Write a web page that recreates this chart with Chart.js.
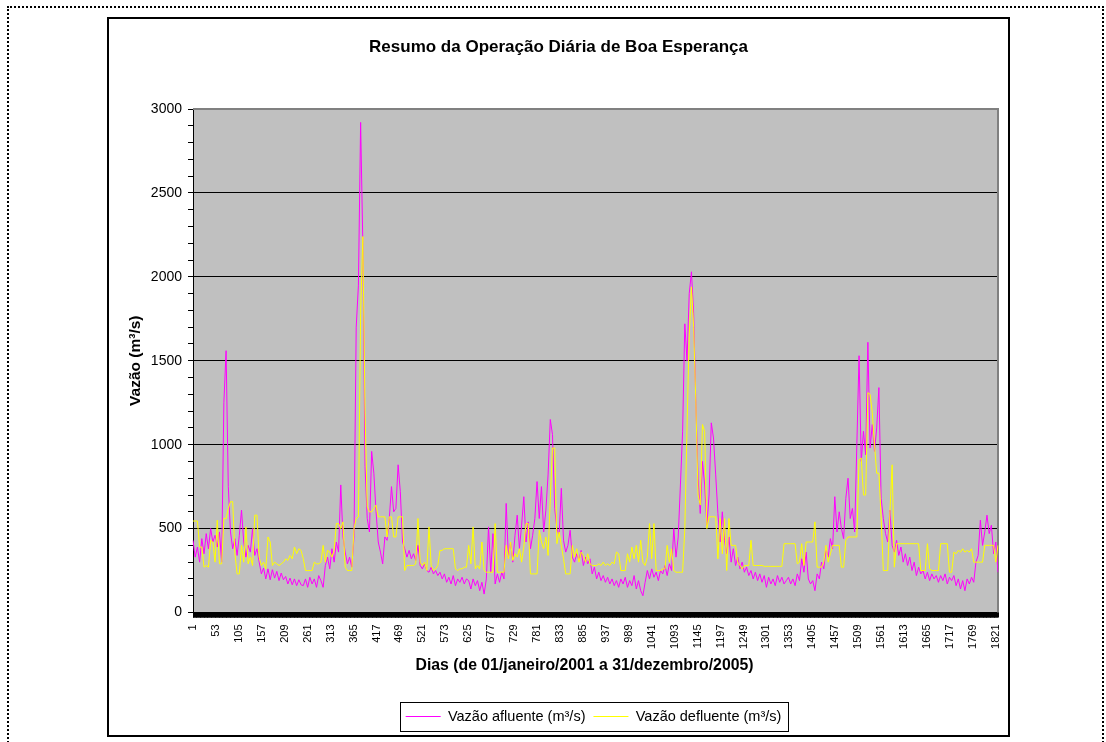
<!DOCTYPE html>
<html>
<head>
<meta charset="utf-8">
<title>Resumo da Operação Diária de Boa Esperança</title>
<script src="https://cdn.jsdelivr.net/npm/chart.js@4.4.0/dist/chart.umd.min.js"></script>
<style>
  html, body { margin: 0; padding: 0; background: #fff; }
  body { width: 1106px; height: 742px; position: relative; overflow: hidden; }
  #sheet { position: absolute; left: 7px; top: 6px; width: 1097px; height: 760px; border: 2px dotted #000; box-sizing: border-box; }
  #frame { position: absolute; left: 107px; top: 17px; width: 903px; height: 720px; border: 2px solid #000; box-sizing: border-box; background: #fff; }
  #wrap { position: absolute; left: 0; top: 0; width: 899px; height: 716px; }
</style>
</head>
<body>
<div id="sheet"></div>
<div id="frame"><div id="wrap"><canvas id="chart"></canvas></div></div>
<script>
// daily record 01/01/2001 .. 31/12/2005, one reading kept every 5 days
const TOTAL_DAYS = 1826;
const STEP = 5;
const LABEL_EVERY = 52;

const yMajor = [0, 500, 1000, 1500, 2000, 2500, 3000];
const yMinorStep = 100;

// Vazão afluente (m³/s)
const afluente = [
  430, 330, 390, 300, 440, 350, 470, 380, 500, 420,
  460, 390, 480, 300, 1250, 1560, 750, 480, 380, 440,
  340, 460, 610, 420, 330, 400, 360, 500, 340, 380,
  300, 230, 265, 200, 260, 195, 255, 205, 245, 190,
  235, 195, 215, 170, 205, 165, 200, 160, 195, 165,
  160, 200, 150, 210, 170, 200, 150, 220, 190, 150,
  280, 330, 260, 380, 300, 420, 360, 760, 450, 360,
  290, 330, 270, 450, 1700, 1950, 2920, 2200, 870, 560,
  480, 960, 830, 600, 420, 360, 290, 450, 430, 560,
  750, 600, 620, 880, 720, 420, 380, 330, 370, 320,
  350, 310, 400, 280, 260, 290, 250, 240, 270, 230,
  250, 220, 240, 200, 230, 180, 210, 170, 220, 160,
  200, 180, 210, 170, 200, 190, 140, 200, 160, 190,
  130, 180, 110, 200, 510, 240, 470, 170, 230, 180,
  240, 200, 650, 330, 420, 300, 460, 580, 380, 520,
  690, 420, 540, 380, 460, 560, 780, 560, 750, 480,
  610, 820, 1150, 1060, 620, 500, 460, 740, 430, 360,
  400, 490, 330, 300, 350, 310, 370, 280, 330, 290,
  320, 230, 270, 200, 240, 190, 220, 180, 210, 170,
  200, 160, 190, 150, 200, 170, 210, 150, 190, 160,
  220, 140, 190, 130, 100, 180, 250, 200, 260, 210,
  240, 190, 250, 230, 280, 220, 290, 250, 500, 330,
  450, 760, 1080, 1720, 1500, 1900, 2030, 1780, 1250, 800,
  590, 900, 760, 520, 700, 1130, 1040, 820, 590, 420,
  600, 430, 350, 450, 300, 380, 280, 330, 260, 300,
  240, 270, 220, 250, 200, 240, 190, 230, 180, 220,
  150, 210, 170, 200, 160, 220, 180, 210, 170, 190,
  210, 170, 200, 160, 230, 190, 320, 240, 360, 200,
  170, 190, 130, 230, 200, 300, 260, 380, 330, 440,
  380, 690, 480, 600, 500, 440, 680, 800, 560, 620,
  480, 1000, 1530, 900, 1080, 940, 1610, 980, 1120, 960,
  1100, 1340, 680, 560, 470, 420, 610, 400, 360, 430,
  340, 390, 300, 350, 280, 330, 250, 300, 220, 270,
  230, 250, 200, 240, 190, 230, 200, 220, 180, 220,
  190, 230, 170, 210, 190, 220, 160, 200, 140, 190,
  130, 200, 170, 210, 180, 300, 340, 550, 400, 480,
  580, 470, 520, 350, 420, 240
];

// Vazão defluente (m³/s)
const defluente = [
  545, 545, 545, 390, 390, 270, 280, 270, 430, 420,
  300, 550, 290, 290, 560, 560, 620, 660, 660, 350,
  230, 230, 400, 300, 510, 290, 330, 280, 580, 580,
  330, 280, 300, 260, 450, 420, 280, 300, 290, 280,
  290, 300, 320, 310, 340, 320, 390, 350, 380, 370,
  320, 250, 250, 250, 250, 300, 290, 290, 300, 400,
  300, 370, 360, 330, 370, 530, 530, 500, 540, 270,
  250, 250, 250, 500, 560, 570, 1780, 2240, 1200, 630,
  600, 600, 620, 640, 570, 570, 570, 570, 450, 570,
  570, 450, 450, 570, 570, 570, 250, 280, 280, 280,
  280, 290, 560, 300, 280, 300, 250, 510, 280, 250,
  260, 280, 370, 370, 380, 380, 380, 380, 380, 260,
  250, 260, 260, 270, 270, 400, 290, 510, 260, 280,
  260, 420, 250, 240, 240, 240, 240, 530, 240, 240,
  240, 240, 400, 320, 420, 310, 350, 330, 380, 300,
  390, 530, 530, 230, 230, 230, 230, 490, 420, 380,
  450, 340, 680, 980, 980, 410, 480, 400, 320, 230,
  230, 230, 400, 330, 380, 300, 360, 340, 300, 350,
  290, 280, 280, 280, 290, 280, 300, 280, 290, 280,
  300, 290, 360, 350, 250, 250, 250, 350, 300, 390,
  320, 400, 300, 430, 300, 280, 330, 530, 320, 530,
  250, 250, 250, 260, 260, 400, 300, 380, 250, 240,
  240, 240, 240, 500, 1100, 1650, 1940, 1700, 1250, 700,
  640, 1120, 1080, 500, 570, 570, 570, 570, 320, 560,
  350, 560, 250, 560, 400, 400, 400, 300, 280, 260,
  280, 280, 280, 430, 280, 280, 280, 280, 280, 275,
  275, 275, 275, 275, 275, 275, 275, 275, 410, 410,
  410, 410, 410, 410, 290, 300, 410, 280, 420, 420,
  420, 420, 540, 270, 270, 270, 300, 400, 300, 350,
  400, 400, 400, 400, 270, 270, 430, 450, 450, 450,
  450, 450, 910, 920, 700, 700, 1310, 1300, 1190, 1000,
  830, 830, 570, 250, 250, 250, 600, 880, 270, 410,
  410, 410, 410, 410, 410, 410, 410, 410, 410, 410,
  250, 250, 250, 410, 260, 250, 250, 250, 250, 410,
  410, 410, 410, 240, 240, 360, 350, 370, 360, 380,
  360, 370, 360, 380, 300, 300, 300, 300, 300, 400,
  400, 400, 400, 400, 300, 400
];

const FONT = "'Liberation Sans', Arial, sans-serif";
Chart.defaults.font.family = FONT;
Chart.defaults.color = '#000';

const dayLabels = Array.from({ length: TOTAL_DAYS }, (_, i) => i + 1);
const toPoints = arr => arr.map((v, i) => ({ x: 1 + i * STEP, y: v }));

// gray plot background, gray frame on top/right
const plotFrame = {
  id: 'plotFrame',
  beforeDraw(chart) {
    const { ctx, chartArea: a } = chart;
    ctx.save();
    ctx.fillStyle = '#c0c0c0';
    ctx.fillRect(a.left, a.top, a.right - a.left, a.bottom - a.top);
    ctx.restore();
  },
  beforeDatasetsDraw(chart) {
    const { ctx, chartArea: a } = chart;
    ctx.save();
    ctx.strokeStyle = '#808080';
    ctx.lineWidth = 2;
    ctx.beginPath();
    ctx.moveTo(a.left, a.top);
    ctx.lineTo(a.right, a.top);
    ctx.lineTo(a.right, a.bottom);
    ctx.stroke();
    ctx.restore();
  }
};

// legend sits under the plot (not the canvas) and gets a box around it;
// the x axis title is nudged left a little
const LEGEND_SHIFT = 35;
const X_TITLE_SHIFT = -11;
const legendBox = {
  id: 'legendBox',
  afterLayout(chart) {
    chart.legend.left += LEGEND_SHIFT;
    chart.legend.right += LEGEND_SHIFT;
    const sx = chart.scales.x;
    if (!sx._titleNudged) {
      const drawTitle = sx.drawTitle.bind(sx);
      sx.drawTitle = () => {
        sx.ctx.save();
        sx.ctx.translate(X_TITLE_SHIFT, 0);
        drawTitle();
        sx.ctx.restore();
      };
      sx._titleNudged = true;
    }
  },
  afterDraw(chart) {
    const hb = chart.legend.legendHitBoxes;
    if (!hb || !hb.length) return;
    const first = hb[0], last = hb[hb.length - 1];
    const x0 = Math.round(first.left - 6) + 0.5;
    const x1 = Math.round(last.left + last.width + 7) + 0.5;
    const y0 = Math.round(first.top - 7.5) + 0.5;
    const y1 = Math.round(first.top + first.height + 7.5) + 0.5;
    const ctx = chart.ctx;
    ctx.save();
    ctx.strokeStyle = '#000';
    ctx.lineWidth = 1;
    ctx.strokeRect(x0, y0, x1 - x0, y1 - y0);
    ctx.restore();
  }
};

new Chart(document.getElementById('chart'), {
  type: 'line',
  data: {
    labels: dayLabels,
    datasets: [
      {
        label: 'Vazão afluente (m³/s)',
        data: toPoints(afluente),
        borderColor: '#ff00ff',
        backgroundColor: '#ff00ff',
        borderWidth: 1,
        order: 1
      },
      {
        label: 'Vazão defluente (m³/s)',
        data: toPoints(defluente),
        borderColor: '#ffff00',
        backgroundColor: '#ffff00',
        borderWidth: 1,
        order: 0
      }
    ]
  },
  options: {
    responsive: true,
    maintainAspectRatio: false,
    animation: false,
    events: [],
    elements: {
      point: { radius: 0 },
      line: { tension: 0 }
    },
    layout: { padding: { left: 0, right: 0, top: 0, bottom: 1.25 } },
    scales: {
      x: {
        type: 'category',
        afterFit: s => {
          s.height = 88.75;
          s.paddingLeft = 0;
          s.paddingRight = 10;
        },
        ticks: {
          autoSkip: false,
          minRotation: 90,
          maxRotation: 90,
          padding: 7,
          font: { size: 11 },
          color: '#000',
          callback: (val, idx) => (idx % LABEL_EVERY === 0 ? String(dayLabels[idx]) : '')
        },
        grid: { drawOnChartArea: false, drawTicks: true, tickLength: 5, tickColor: '#000' },
        border: { color: '#000', width: 1 },
        title: {
          display: true,
          text: 'Dias (de 01/janeiro/2001 a 31/dezembro/2005)',
          font: { size: 15.8, weight: 'bold' },
          color: '#000',
          padding: { top: 0, bottom: 26 }
        }
      },
      y: {
        min: yMajor[0],
        max: yMajor[yMajor.length - 1],
        afterFit: s => { s.width = 84; },
        afterBuildTicks: s => {
          const ticks = [];
          for (let v = s.min; v <= s.max; v += yMinorStep) ticks.push({ value: v });
          s.ticks = ticks;
        },
        ticks: {
          autoSkip: false,
          padding: 6,
          font: { size: 14 },
          color: '#000',
          callback: v => (yMajor.includes(v) ? String(v) : '')
        },
        grid: {
          color: c => {
            const v = c.tick ? c.tick.value : 0;
            return yMajor.includes(v) && v > 0 && v < 3000 ? '#000' : 'rgba(0,0,0,0)';
          },
          lineWidth: 1,
          tickColor: '#000',
          tickLength: 5
        },
        border: { color: '#000', width: 1 },
        title: {
          display: true,
          text: 'Vazão (m³/s)',
          font: { size: 15.5, weight: 'bold' },
          color: '#000',
          padding: { top: 17, bottom: 0 }
        }
      }
    },
    plugins: {
      title: {
        display: true,
        text: 'Resumo da Operação Diária de Boa Esperança',
        font: { size: 17, weight: 'bold' },
        color: '#000',
        padding: { top: 17.8, bottom: 51.8 }
      },
      legend: {
        position: 'bottom',
        labels: {
          usePointStyle: true,
          pointStyle: 'line',
          pointStyleWidth: 35,
          padding: 8,
          font: { size: 14.5 },
          color: '#000',
          sort: (a, b) => a.datasetIndex - b.datasetIndex
        }
      },
      tooltip: { enabled: false }
    }
  },
  plugins: [plotFrame, legendBox]
});
</script>
</body>
</html>
